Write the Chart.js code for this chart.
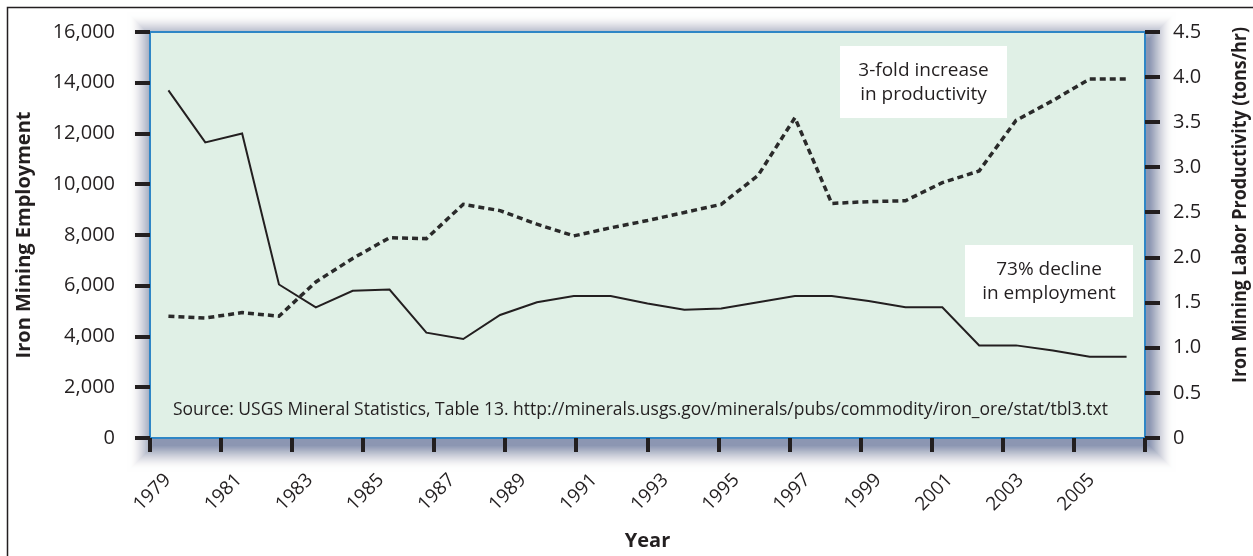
<!DOCTYPE html>
<html>
<head>
<meta charset="utf-8">
<script src="https://cdn.jsdelivr.net/npm/chart.js@4/dist/chart.umd.min.js"></script>
<style>
  html, body { margin: 0; padding: 0; background: #fff; }
</style>
</head>
<body>
<canvas id="myChart" width="1253" height="556"></canvas>
<script>
// data
var years = [1979, 1980, 1981, 1982, 1983, 1984, 1985, 1986, 1987, 1988, 1989, 1990, 1991, 1992,
             1993, 1994, 1995, 1996, 1997, 1998, 1999, 2000, 2001, 2002, 2003, 2004, 2005];
var employment = [13700, 11650, 12000, 6050, 5150, 5800, 5850, 4150, 3900, 4850, 5350, 5600, 5600, 5300,
                  5050, 5100, 5350, 5600, 5600, 5400, 5150, 5150, 3650, 3650, 3450, 3200, 3200];
var productivity = [1.35, 1.33, 1.39, 1.35, 1.73, 1.99, 2.22, 2.21, 2.59, 2.52, 2.37, 2.24, 2.33, 2.41,
                    2.50, 2.59, 2.91, 3.55, 2.60, 2.62, 2.63, 2.83, 2.96, 3.52, 3.74, 3.98, 3.98];
// year axis as printed (ticks every two years, a little tighter than the data)
var axisYears = [1979, 1980, 1981, 1982, 1983, 1984, 1985, 1986, 1987, 1988, 1989, 1990, 1991, 1992,
                 1993, 1994, 1995, 1996, 1997, 1998, 1999, 2000, 2001, 2002, 2003, 2004, 2005, 2006];
var employmentMax = 16000, employmentStep = 2000;
var productivityMax = 4.5, productivityStep = 0.5;

var notes = [
  { lines: ["3-fold increase", "in productivity"], box: [840, 46, 167, 72] },
  { lines: ["73% decline", "in employment"], box: [965, 245, 168, 72] }
];
var sourceText = "Source: USGS Mineral Statistics, Table 13. http://minerals.usgs.gov/minerals/pubs/commodity/iron_ore/stat/tbl3.txt";
var rightTitle = "Iron Mining Labor Productivity (tons/hr)";

var
  ink = "#231f20",
  plotGreen = "#e0f0e6",
  frameBlue = "#2f86c6",
  fontFamily = "'Open Sans', sans-serif";

Chart.defaults.font.family = fontFamily;
Chart.defaults.color = ink;

// text squeezed a little to the printed width (the original face is narrower)
function fitText(c, text, x, y, width) {
  var w = c.measureText(text).width;
  c.save();
  c.translate(x, y);
  c.scale(Math.min(1, width / w), 1);
  c.fillText(text, 0, 0);
  c.restore();
}

var chartDecor = {
  id: 'chartDecor',
  beforeDraw: function(chart) {
    var c = chart.ctx, a = chart.chartArea, i, n = 30;
    c.save();
    c.strokeStyle = ink;
    c.lineWidth = 1.5;
    c.beginPath();
    c.moveTo(7.5, chart.height);
    c.lineTo(7.5, 7.5);
    c.lineTo(chart.width, 7.5);
    c.stroke();
    // soft drop shadow, built from stacked translucent rects
    for (i = n; i >= 1; i--) {
      c.fillStyle = "rgba(55, 75, 125, " + (0.075 * Math.pow(1 - i / (n + 1), 1.6)).toFixed(4) + ")";
      c.fillRect(a.left - i + 4, a.top - i + 7, a.width + 2 * i, a.height + 2 * i);
    }
    c.fillStyle = plotGreen;
    c.fillRect(a.left, a.top, a.width, a.height);
    c.strokeStyle = frameBlue;
    c.lineWidth = 2;
    c.strokeRect(a.left, a.top, a.width, a.height);
    c.restore();
  },
  afterDatasetsDraw: function(chart) {
    var c = chart.ctx, a = chart.chartArea;
    c.save();
    notes.forEach(function(n) {
      var b = n.box;
      c.fillStyle = "#ffffff";
      c.fillRect(b[0], b[1], b[2], b[3]);
      c.fillStyle = ink;
      c.font = "19px " + fontFamily;
      c.textAlign = "center";
      c.textBaseline = "middle";
      n.lines.forEach(function(t, i) {
        c.fillText(t, b[0] + b[2] / 2, b[1] + 25 + i * 24);
      });
    });
    c.fillStyle = ink;
    c.font = "18px " + fontFamily;
    c.textAlign = "left";
    c.textBaseline = "middle";
    fitText(c, sourceText, a.left + 23, 410, 935);
    c.translate(1240, 383);
    c.rotate(-Math.PI / 2);
    c.font = "bold 20px " + fontFamily;
    c.textAlign = "left";
    fitText(c, rightTitle, 0, 0, 356);
    c.restore();
  }
};

function tickGrid() {
  return {
    drawOnChartArea: false,
    tickLength: 15,
    lineWidth: 4,
    tickWidth: 4,
    color: ink,
    tickColor: ink
  };
}

var myChart = new Chart(document.getElementById("myChart").getContext('2d'), {
  type: 'line',
  data: {
    labels: years,
    datasets: [{
      label: "Iron Mining Employment",
      data: employment,
      yAxisID: 'y',
      borderColor: ink,
      borderWidth: 2,
      pointRadius: 0,
      tension: 0,
      fill: false
    }, {
      label: "Iron Mining Labor Productivity",
      data: productivity,
      yAxisID: 'y2',
      borderColor: "#2a2a2a",
      borderWidth: 3.5,
      borderDash: [6, 4],
      pointRadius: 0,
      tension: 0,
      fill: false
    }]
  },
  options: {
    responsive: false,
    animation: false,
    devicePixelRatio: 1,
    layout: { padding: { top: 31, left: 0, right: 0, bottom: 0 } },
    plugins: {
      legend: { display: false },
      tooltip: { enabled: false }
    },
    scales: {
      x: { type: 'category', offset: true, display: false },
      yearAxis: {
        type: 'category',
        position: 'bottom',
        labels: axisYears,
        offset: true,
        grid: {
          offset: true,
          drawOnChartArea: false,
          tickLength: 14,
          lineWidth: 4,
          tickWidth: 4,
          tickColor: function(ctx) {
            return (ctx.index === undefined || ctx.index % 2 === 0) ? ink : "rgba(0,0,0,0)";
          }
        },
        border: { display: false },
        ticks: {
          autoSkip: false,
          maxRotation: 45,
          minRotation: 45,
          padding: 17,
          font: { size: 19 },
          callback: function(v, i) { return i % 2 === 0 ? String(axisYears[i]) : ''; }
        },
        title: {
          display: true,
          text: "Year",
          font: { size: 20, weight: 'bold' },
          padding: { top: 0, bottom: 3 }
        },
        afterFit: function(s) { s.height = 118; }
      },
      y: {
        position: 'left',
        min: 0,
        max: employmentMax,
        grid: tickGrid(),
        border: { display: false },
        ticks: {
          stepSize: employmentStep,
          padding: 20,
          font: { size: 20 },
          callback: function(v) { return v.toLocaleString('en-US'); }
        },
        title: {
          display: true,
          text: "Iron Mining Employment",
          font: { size: 20, weight: 'bold' },
          padding: { top: 12, bottom: 0 }
        },
        afterFit: function(s) { s.width = 150; }
      },
      y2: {
        position: 'right',
        min: 0,
        max: productivityMax,
        grid: tickGrid(),
        border: { display: false },
        ticks: {
          stepSize: productivityStep,
          padding: 13,
          font: { size: 20 },
          callback: function(v) { return v === 0 ? '0' : v.toFixed(1); }
        },
        afterFit: function(s) { s.width = 108; }
      }
    }
  },
  plugins: [chartDecor]
});
</script>
</body>
</html>
